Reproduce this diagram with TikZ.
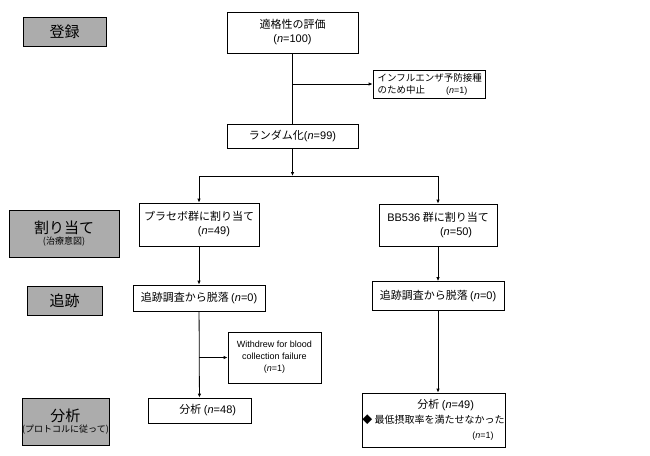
\documentclass[tikz,border=0pt]{standalone}
\usepackage{fontspec}
\setmainfont{Noto Sans CJK JP}
\newfontfamily\lat{Liberation Sans}
\usetikzlibrary{arrows.meta}
\newcommand{\nval}[1]{{\lat(\textit{n}=#1)}}
\tikzset{
  stagebox/.style={draw, fill=gray!65, minimum width=#1, inner sep=0pt, align=center},
  flowbox/.style={draw, fill=white, inner sep=0pt, align=center, font=\fontsize{11}{14}\selectfont},
  sidebox/.style={draw, fill=white, inner sep=0pt, align=left, font=\fontsize{9.5}{12}\selectfont},
  arr/.style={-{Latex[length=4pt,width=3.5pt]}, thick}
}
\begin{document}
\begin{tikzpicture}[x=1pt,y=-1pt,line width=0.8pt]
  \useasboundingbox (0,0) rectangle (650,455);
  % stages
  \node[stagebox=83pt, minimum height=29pt, font=\fontsize{15}{17}\selectfont] (reg) at (64.5,31.5) {登録};
  \node[stagebox=110pt, minimum height=47pt] (alloc) at (64,233.5)
    {{\fontsize{15}{17}\selectfont 割り当て}\\[-1pt]{\fontsize{9}{11}\selectfont (治療意図)}};
  \node[stagebox=75pt, minimum height=29pt, font=\fontsize{15}{17}\selectfont] (fu) at (64.5,300.5) {追跡};
  \node[stagebox=87pt, minimum height=47pt] (ana) at (65.5,421.5)
    {{\fontsize{15}{17}\selectfont 分析}\\[-1pt]{\fontsize{9}{11}\selectfont (プロトコルに従って)}};
  % flow
  \node[flowbox, minimum width=131pt, minimum height=41pt] (elig) at (292.5,32.5) {適格性の評価\\\nval{100}};
  \node[sidebox, minimum width=112pt, minimum height=28pt] (excl) at (429,84)
    {\,インフルエンザ予防接種\\\,のため中止\hspace{2.2em}{\fontsize{9}{12}\selectfont\nval{1}}};
  \node[flowbox, minimum width=131pt, minimum height=24pt] (rand) at (292.5,136) {ランダム化\nval{99}};
  \node[flowbox, minimum width=120pt, minimum height=43pt, align=left] (plac) at (199,224.5)
    {プラセボ群に割り当て\\\hspace{4.9em}\nval{49}};
  \node[flowbox, minimum width=118pt, minimum height=42pt, align=left] (bb) at (438,225)
    {{\lat BB536} 群に割り当て\\\hspace{4.8em}\nval{50}};
  \node[flowbox, minimum width=132pt, minimum height=26pt] (fuL) at (199,298) {追跡調査から脱落 \nval{0}};
  \node[flowbox, minimum width=132pt, minimum height=29pt] (fuR) at (438,296) {追跡調査から脱落 \nval{0}};
  \node[flowbox, minimum width=93pt, minimum height=51pt, font=\lat\fontsize{9}{12}\selectfont] (wd) at (274.5,357.5)
    {Withdrew for blood\\collection failure\\\nval{1}};
  \node[flowbox, minimum width=103pt, minimum height=25pt] (anL) at (199.5,410.5) {\hspace{1.5em}分析 \nval{48}};
  \node[flowbox, minimum width=143pt, minimum height=54pt, align=left, font=\fontsize{10}{15}\selectfont] (anR) at (433.5,420)
    {\hspace{5.5em}{\fontsize{11}{13}\selectfont 分析 \nval{49}}\\◆ 最低摂取率を満たせなかった\\\hspace{11em}{\fontsize{9}{12}\selectfont\nval{1}}};
  % connectors
  \coordinate (exclJ) at (elig.south |- excl.west);
  \coordinate (split) at (292.5,176);
  \coordinate (splitL) at (plac.north |- split);
  \coordinate (splitR) at (bb.north |- split);
  \coordinate (wdJ) at (fuL.south |- wd.west);
  \coordinate (anRtop) at (fuR.south |- anR.north);
  \draw (elig) -- (rand);
  \draw[arr] (exclJ) -- (excl.west);
  \draw[arr] (rand) -- (split);
  \draw (splitL) -- (splitR);
  \draw[arr] (splitL) -- (plac);
  \draw[arr] (splitR) -- (bb);
  \draw[arr] (plac) -- (fuL);
  \draw[arr] (bb) -- (fuR);
  \draw[arr] (fuL) -- (anL);
  \draw[arr] (wdJ) -- (wd.west);
  \draw[arr] (fuR) -- (anRtop);
\end{tikzpicture}
\end{document}
